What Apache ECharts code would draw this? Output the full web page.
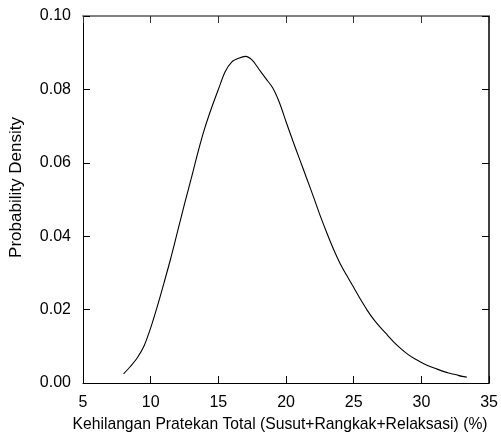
<!DOCTYPE html>
<html>
<head>
<meta charset="utf-8">
<script src="https://cdn.jsdelivr.net/npm/echarts@6/dist/echarts.min.js"></script>
<style>html,body{margin:0;padding:0;background:#fff;}#c{width:501px;height:438px;}</style>
</head>
<body>
<div id="c"></div>
<script>
var lossPct = [8.0, 8.5, 9.0, 9.5, 10.0, 10.5, 11.0, 11.5, 12.0, 12.5, 13.0, 13.5, 14.0, 14.5, 15.0, 15.5, 16.0, 16.5, 17.0, 17.5, 18.0, 18.5, 19.0, 19.5, 20.0, 20.5, 21.0, 21.5, 22.0, 22.5, 23.0, 23.5, 24.0, 24.5, 25.0, 25.5, 26.0, 26.5, 27.0, 27.5, 28.0, 28.5, 29.0, 29.5, 30.0, 30.5, 31.0, 31.5, 32.0, 32.5, 33.0, 33.35];
var density = [0.0025, 0.0045, 0.0068, 0.0100, 0.0150, 0.0210, 0.0275, 0.0342, 0.0415, 0.0488, 0.0558, 0.0630, 0.0695, 0.0750, 0.0800, 0.0848, 0.0875, 0.0885, 0.0890, 0.0880, 0.0855, 0.0830, 0.0805, 0.0765, 0.0712, 0.0660, 0.0610, 0.0560, 0.0510, 0.0458, 0.0410, 0.0365, 0.0325, 0.0292, 0.0260, 0.0228, 0.0198, 0.0172, 0.0150, 0.0130, 0.0110, 0.0093, 0.0078, 0.0066, 0.0056, 0.0047, 0.0040, 0.0033, 0.0027, 0.0023, 0.0018, 0.0016];
var xTitle = 'Kehilangan Pratekan Total (Susut+Rangkak+Relaksasi) (%)';
var yTitle = 'Probability Density';

var pts = lossPct.map(function(x, i){ return [x, density[i]]; });
var FONT = 'Liberation Sans, Arial, sans-serif';
var chart = echarts.init(document.getElementById('c'), null, {renderer: 'canvas'});
chart.setOption({
  animation: false,
  backgroundColor: '#fff',
  grid: {left: 80, top: 16, right: 9, bottom: 51, containLabel: false},
  xAxis: [{
    type: 'value', min: 5, max: 35, interval: 5, position: 'bottom',
    name: xTitle, nameLocation: 'middle', nameGap: 34,
    nameTextStyle: {color: '#000', fontSize: 15.7, fontFamily: FONT, padding: [0, 12, 0, 0]},
    axisLine: {show: true, onZero: false, lineStyle: {color: '#000', width: 1}},
    axisTick: {show: true, inside: true, length: 7, lineStyle: {color: '#000'}},
    axisLabel: {color: '#000', fontSize: 16, fontFamily: FONT, margin: 12},
    splitLine: {show: false}
  }, {
    type: 'value', min: 5, max: 35, interval: 5, position: 'top',
    axisLine: {show: true, onZero: false, lineStyle: {color: '#808080', width: 2}},
    axisTick: {show: true, inside: true, length: 7, lineStyle: {color: '#333'}},
    axisLabel: {show: false},
    splitLine: {show: false}
  }],
  yAxis: [{
    type: 'value', min: 0, max: 0.10, interval: 0.02, position: 'left',
    name: yTitle, nameLocation: 'middle', nameGap: 58, nameRotate: 90,
    nameTextStyle: {color: '#000', fontSize: 17, fontFamily: FONT, padding: [0, 0, 0, 24]},
    axisLine: {show: true, onZero: false, lineStyle: {color: '#000', width: 1}},
    axisTick: {show: true, inside: true, length: 7, lineStyle: {color: '#000'}},
    axisLabel: {color: '#000', fontSize: 16, fontFamily: FONT, margin: 12,
      formatter: function(v){ return v.toFixed(2); }},
    splitLine: {show: false}
  }, {
    type: 'value', min: 0, max: 0.10, interval: 0.02, position: 'right',
    axisLine: {show: true, onZero: false, lineStyle: {color: '#000', width: 1.5}},
    axisTick: {show: true, inside: true, length: 7, lineStyle: {color: '#000'}},
    axisLabel: {show: false},
    splitLine: {show: false}
  }],
  series: [{
    type: 'line', data: pts, xAxisIndex: 0, yAxisIndex: 0,
    showSymbol: false, smooth: 0.3,
    lineStyle: {color: '#000', width: 1.1}
  }]
});
</script>
</body>
</html>
